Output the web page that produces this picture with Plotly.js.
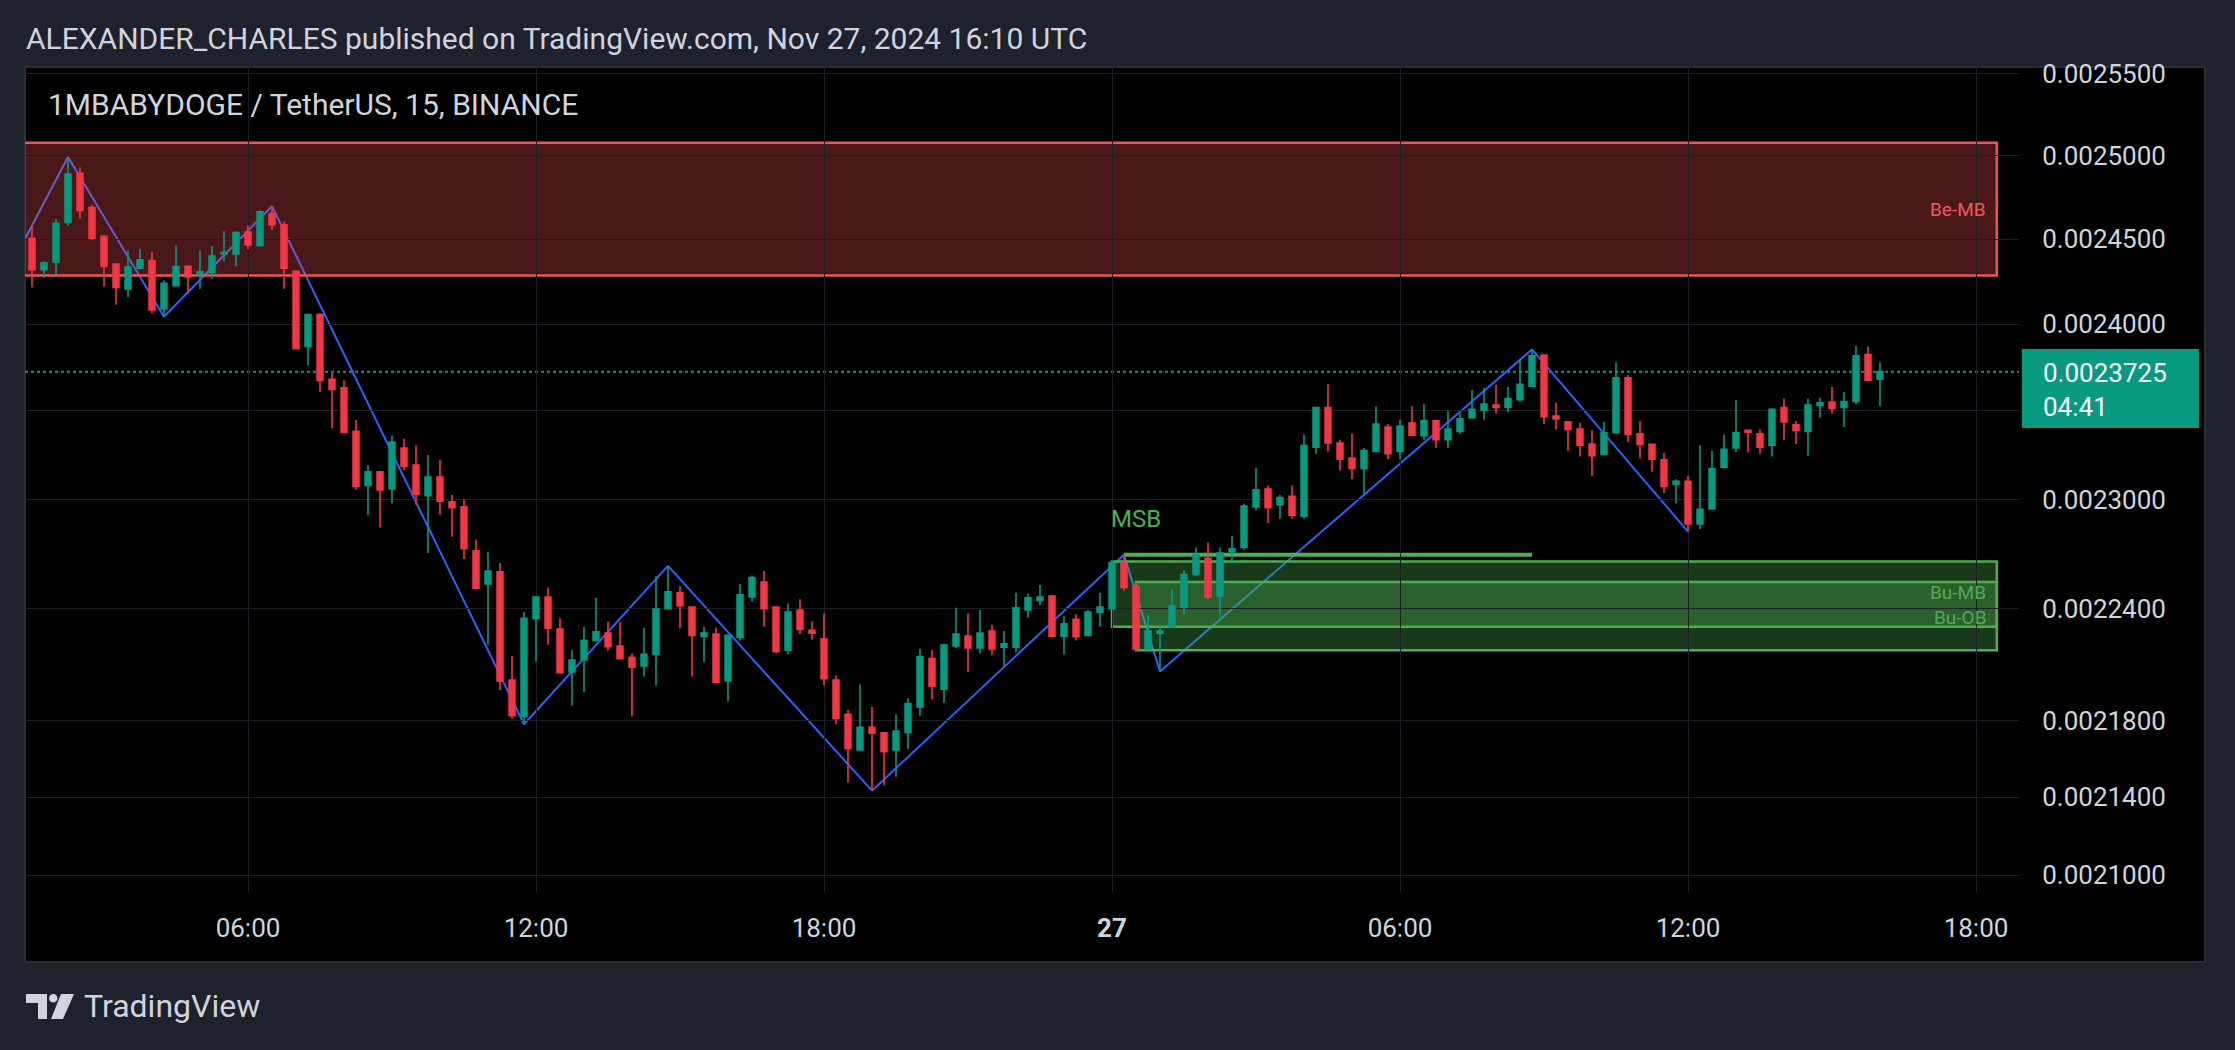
<!DOCTYPE html>
<html>
<head>
<meta charset="utf-8">
<script src="https://cdn.plot.ly/plotly-3.0.1.min.js"></script>
<style>
  html, body { margin: 0; padding: 0; background: #1e222d; }
  #chart { width: 2235px; height: 1050px; }
</style>
</head>
<body>
<div id="chart"></div>
<script>
// ---------------- DATA ----------------
const headerText = 'ALEXANDER_CHARLES published on TradingView.com, Nov 27, 2024 16:10 UTC';
const symbolText = '1MBABYDOGE / TetherUS, 15, BINANCE';
const brandText = 'TradingView';
const countdownText = '04:41';

const firstCandleTime = '2024-11-26 01:30';
const candleMinutes = 15;

const open = [
0.0024503,0.0024319,0.0024364,0.0024598,0.0024894,0.0024688,0.0024516,0.0024352,0.0024206,0.0024327,
0.0024372,0.0024088,0.0024224,0.0024339,0.0024291,0.0024301,0.0024412,0.0024412,0.0024541,0.0024460,
0.0024652,0.0024585,0.0024309,0.0023870,0.0024055,0.0023681,0.0023632,0.0023385,0.0023079,0.0023156,
0.0023060,0.0023290,0.0023194,0.0023022,0.0023127,0.0022988,0.0022960,0.0022717,0.0022535,0.0022601,
0.0022017,0.0021823,0.0022348,0.0022464,0.0022290,0.0022060,0.0022124,0.0022229,0.0022268,0.0022199,
0.0022138,0.0022092,0.0022154,0.0022400,0.0022487,0.0022409,0.0022252,0.0022263,0.0022012,0.0022245,
0.0022464,0.0022546,0.0022409,0.0022176,0.0022393,0.0022284,0.0022238,0.0022017,0.0021834,0.0021646,
0.0021766,0.0021737,0.0021646,0.0021739,0.0021873,0.0022131,0.0021967,0.0022199,0.0022252,0.0022188,
0.0022279,0.0022192,0.0022192,0.0022393,0.0022445,0.0022469,0.0022252,0.0022343,0.0022256,0.0022382,
0.0022400,0.0022648,0.0022523,0.0022183,0.0022268,0.0022302,0.0022409,0.0022587,0.0022676,0.0022469,
0.0022712,0.0022735,0.0022960,0.0023060,0.0022972,0.0023019,0.0022908,0.0023294,0.0023520,0.0023318,
0.0023234,0.0023175,0.0023270,0.0023409,0.0023270,0.0023431,0.0023359,0.0023445,0.0023337,0.0023383,
0.0023462,0.0023505,0.0023534,0.0023522,0.0023564,0.0023642,0.0023821,0.0023471,0.0023438,0.0023397,
0.0023313,0.0023254,0.0023376,0.0023689,0.0023371,0.0023311,0.0023223,0.0023086,0.0023103,0.0022865,
0.0022948,0.0023182,0.0023290,0.0023390,0.0023371,0.0023306,0.0023520,0.0023421,0.0023383,0.0023532,
0.0023551,0.0023520,0.0023554,0.0023824,0.0023681
];
const high = [
0.0024580,0.0024369,0.0024619,0.0024992,0.0024928,0.0024704,0.0024523,0.0024352,0.0024432,0.0024440,
0.0024422,0.0024256,0.0024465,0.0024344,0.0024432,0.0024457,0.0024546,0.0024546,0.0024580,0.0024670,
0.0024696,0.0024606,0.0024309,0.0024055,0.0024063,0.0023718,0.0023674,0.0023450,0.0023194,0.0023156,
0.0023361,0.0023342,0.0023306,0.0023251,0.0023223,0.0023026,0.0023002,0.0022778,0.0022712,0.0022648,
0.0022147,0.0022382,0.0022469,0.0022516,0.0022348,0.0022176,0.0022302,0.0022459,0.0022329,0.0022329,
0.0022160,0.0022297,0.0022577,0.0022634,0.0022523,0.0022409,0.0022302,0.0022297,0.0022256,0.0022535,
0.0022582,0.0022606,0.0022409,0.0022428,0.0022452,0.0022332,0.0022375,0.0022040,0.0021857,0.0021992,
0.0021873,0.0021737,0.0021834,0.0021919,0.0022183,0.0022176,0.0022211,0.0022405,0.0022375,0.0022393,
0.0022313,0.0022279,0.0022487,0.0022483,0.0022530,0.0022469,0.0022359,0.0022370,0.0022393,0.0022487,
0.0022665,0.0022695,0.0022546,0.0022366,0.0022313,0.0022504,0.0022610,0.0022735,0.0022764,0.0022735,
0.0022799,0.0022979,0.0023179,0.0023079,0.0023026,0.0023079,0.0023366,0.0023520,0.0023652,0.0023337,
0.0023371,0.0023290,0.0023527,0.0023426,0.0023450,0.0023527,0.0023539,0.0023445,0.0023498,0.0023486,
0.0023620,0.0023632,0.0023650,0.0023637,0.0023799,0.0023853,0.0023821,0.0023547,0.0023438,0.0023433,
0.0023390,0.0023438,0.0023779,0.0023706,0.0023443,0.0023313,0.0023263,0.0023115,0.0023134,0.0023306,
0.0023275,0.0023366,0.0023564,0.0023390,0.0023395,0.0023515,0.0023571,0.0023443,0.0023569,0.0023576,
0.0023637,0.0023608,0.0023873,0.0023870,0.0023779
];
const low = [
0.0024214,0.0024271,0.0024289,0.0024580,0.0024619,0.0024495,0.0024219,0.0024113,0.0024158,0.0024322,
0.0024063,0.0024043,0.0024224,0.0024176,0.0024206,0.0024264,0.0024369,0.0024339,0.0024440,0.0024457,
0.0024554,0.0024206,0.0023858,0.0023760,0.0023608,0.0023402,0.0023376,0.0023055,0.0022913,0.0022846,
0.0022979,0.0023163,0.0022972,0.0022705,0.0022917,0.0022795,0.0022672,0.0022511,0.0022206,0.0021964,
0.0021812,0.0021782,0.0022115,0.0022206,0.0022051,0.0021880,0.0021953,0.0022222,0.0022174,0.0022126,
0.0021823,0.0022035,0.0021987,0.0022400,0.0022295,0.0022035,0.0022113,0.0022005,0.0021903,0.0022229,
0.0022440,0.0022302,0.0022160,0.0022154,0.0022263,0.0022233,0.0021989,0.0021782,0.0021477,0.0021642,
0.0021434,0.0021461,0.0021506,0.0021653,0.0021827,0.0021914,0.0021896,0.0022188,0.0022058,0.0022160,
0.0022149,0.0022092,0.0022165,0.0022352,0.0022421,0.0022252,0.0022154,0.0022229,0.0022252,0.0022302,
0.0022400,0.0022499,0.0022176,0.0022176,0.0022062,0.0022302,0.0022370,0.0022577,0.0022452,0.0022352,
0.0022648,0.0022723,0.0022941,0.0022870,0.0022894,0.0022896,0.0022894,0.0023258,0.0023270,0.0023163,
0.0023115,0.0023031,0.0023270,0.0023227,0.0023227,0.0023361,0.0023337,0.0023290,0.0023290,0.0023371,
0.0023462,0.0023450,0.0023486,0.0023493,0.0023554,0.0023637,0.0023426,0.0023395,0.0023275,0.0023242,
0.0023132,0.0023254,0.0023376,0.0023323,0.0023232,0.0023156,0.0023036,0.0022979,0.0022823,0.0022837,
0.0022948,0.0023175,0.0023266,0.0023266,0.0023258,0.0023242,0.0023335,0.0023313,0.0023246,0.0023462,
0.0023486,0.0023409,0.0023539,0.0023672,0.0023529
];
const close = [
0.0024319,0.0024359,0.0024593,0.0024889,0.0024670,0.0024503,0.0024339,0.0024214,0.0024334,0.0024377,
0.0024083,0.0024239,0.0024337,0.0024276,0.0024306,0.0024399,0.0024422,0.0024539,0.0024465,0.0024662,
0.0024585,0.0024327,0.0023858,0.0024055,0.0023676,0.0023623,0.0023380,0.0023074,0.0023156,0.0023055,
0.0023323,0.0023187,0.0023031,0.0023127,0.0022991,0.0022955,0.0022728,0.0022511,0.0022606,0.0022012,
0.0021827,0.0022348,0.0022464,0.0022295,0.0022056,0.0022124,0.0022229,0.0022275,0.0022195,0.0022131,
0.0022085,0.0022154,0.0022398,0.0022492,0.0022417,0.0022256,0.0022268,0.0022005,0.0022256,0.0022476,
0.0022570,0.0022400,0.0022170,0.0022382,0.0022288,0.0022268,0.0022024,0.0021812,0.0021655,0.0021766,
0.0021734,0.0021637,0.0021746,0.0021891,0.0022142,0.0021983,0.0022204,0.0022263,0.0022188,0.0022268,
0.0022183,0.0022211,0.0022405,0.0022459,0.0022464,0.0022252,0.0022318,0.0022249,0.0022382,0.0022409,
0.0022653,0.0022516,0.0022183,0.0022279,0.0022279,0.0022417,0.0022587,0.0022695,0.0022464,0.0022705,
0.0022728,0.0022965,0.0023055,0.0022955,0.0023012,0.0022913,0.0023304,0.0023520,0.0023318,0.0023227,
0.0023175,0.0023275,0.0023426,0.0023258,0.0023414,0.0023361,0.0023445,0.0023337,0.0023397,0.0023455,
0.0023510,0.0023539,0.0023520,0.0023571,0.0023652,0.0023816,0.0023467,0.0023455,0.0023395,0.0023306,
0.0023246,0.0023376,0.0023689,0.0023366,0.0023311,0.0023227,0.0023074,0.0023103,0.0022865,0.0022946,
0.0023175,0.0023282,0.0023378,0.0023380,0.0023294,0.0023510,0.0023438,0.0023390,0.0023534,0.0023547,
0.0023515,0.0023554,0.0023816,0.0023676,0.0023725
];

// zigzag pivots
const pivotTimes = ['2024-11-26 01:00','2024-11-26 02:15','2024-11-26 04:15','2024-11-26 06:30','2024-11-26 11:45',
  '2024-11-26 14:45','2024-11-26 19:00','2024-11-27 00:15','2024-11-27 01:00','2024-11-27 08:45','2024-11-27 12:00'];
const pivotPrices = [0.0024309,0.0024992,0.0024043,0.0024696,0.0021782,0.0022634,0.0021434,0.0022695,0.0022062,0.0023853,0.0022823];

// zones
const zoneNames = ['Be-MB','Bu-OB','Bu-MB'];
const zoneStart = ['2024-11-26 00:00','2024-11-27 00:00','2024-11-27 00:30'];
const zoneEnd = ['2024-11-27 18:26','2024-11-27 18:26','2024-11-27 18:26'];
const zoneTop = [0.0025078,0.0022658,0.0022546];
const zoneBottom = [0.0024285,0.0022302,0.0022176];
const zoneLabels = ['Be-MB','Bu-MB','Bu-OB'];
const zoneLabelPrices = [0.0024675,0.0022486,0.0022355];
const zoneLabelColors = ['#f05a5a','#55a855','#55a855'];

// market structure break
const msbLabel = 'MSB';
const msbStart = '2024-11-27 00:15';
const msbEnd = '2024-11-27 08:45';
const msbPrice = 0.0022695;
const msbLabelTime = '2024-11-27 00:30';
const msbLabelPrice = 0.0022893;

// axes
const xTickVals = ['2024-11-26 06:00','2024-11-26 12:00','2024-11-26 18:00','2024-11-27 00:00','2024-11-27 06:00','2024-11-27 12:00','2024-11-27 18:00'];
const xTickText = ['06:00','12:00','18:00','<b>27</b>','06:00','12:00','18:00'];
const yTickVals = [0.0021,0.00214,0.00218,0.00224,0.0023,0.00235,0.0024,0.00245,0.0025,0.00255];
const yTickText = ['0.0021000','0.0021400','0.0021800','0.0022400','0.0023000','','0.0024000','0.0024500','0.0025000','0.0025500'];
const xRange = ['2024-11-26 01:21:15','2024-11-27 18:53:45'];
const yRangePrices = [0.0020914,0.0025543];

// ---------------- BUILD ----------------
function addMinutes(str, m) {
  const d = new Date(str.replace(' ', 'T') + ':00Z');
  d.setUTCMinutes(d.getUTCMinutes() + m);
  return d.toISOString().slice(0, 16).replace('T', ' ');
}
const times = open.map((_, i) => addMinutes(firstCandleTime, i * candleMinutes));

const UP = '#089981', DOWN = '#f23645';
const W = 2235, H = 1050;
const M = {l: 25, r: 216, t: 67, b: 158};
const PW = W - M.l - M.r, PH = H - M.t - M.b;
const px = X => (X - M.l) / PW;
const py = Y => (H - M.b - Y) / PH;

const shapes = [];
// chart panel
shapes.push({type: 'rect', xref: 'paper', yref: 'paper', x0: px(25), x1: px(2205), y0: py(962), y1: py(67),
  fillcolor: '#000000', line: {color: '#2a2e39', width: 2}, layer: 'below'});
// zigzag
for (let k = 0; k < pivotTimes.length - 1; k++) {
  shapes.push({type: 'line', xref: 'x', yref: 'y', x0: pivotTimes[k], y0: pivotPrices[k], x1: pivotTimes[k + 1], y1: pivotPrices[k + 1],
    line: {color: '#2962ff', width: 2}, layer: 'below'});
}
// zones
zoneNames.forEach((n, k) => {
  const red = n.startsWith('Be');
  shapes.push({type: 'rect', xref: 'x', yref: 'y', x0: zoneStart[k], x1: zoneEnd[k], y0: zoneBottom[k], y1: zoneTop[k],
    fillcolor: red ? 'rgba(250,80,85,0.30)' : 'rgba(76,175,80,0.33)',
    line: {color: red ? '#f05454' : '#4caf50', width: 2.5}, layer: 'below'});
});
// MSB line
shapes.push({type: 'line', xref: 'x', yref: 'y', x0: msbStart, x1: msbEnd, y0: msbPrice, y1: msbPrice,
  line: {color: '#4caf50', width: 4}, layer: 'below'});
// last price dotted line
const last = close[close.length - 1];
shapes.push({type: 'line', xref: 'paper', yref: 'y', x0: 0, x1: 1, y0: last, y1: last,
  line: {color: UP, width: 2, dash: 'dot'}, layer: 'below'});
// TradingView logo
shapes.push({type: 'path', xref: 'paper', yref: 'paper', layer: 'below', fillcolor: '#d1d4dc', line: {width: 0},
  path: `M ${px(26)} ${py(994)} L ${px(47)} ${py(994)} L ${px(47)} ${py(1019)} L ${px(38)} ${py(1019)} L ${px(38)} ${py(1003)} L ${px(26)} ${py(1003)} Z`});
shapes.push({type: 'circle', xref: 'paper', yref: 'paper', layer: 'below', fillcolor: '#d1d4dc', line: {width: 0},
  x0: px(49), x1: px(57.5), y0: py(1002.5), y1: py(994)});
shapes.push({type: 'path', xref: 'paper', yref: 'paper', layer: 'below', fillcolor: '#d1d4dc', line: {width: 0},
  path: `M ${px(61)} ${py(994)} L ${px(74)} ${py(994)} L ${px(63)} ${py(1019)} L ${px(51)} ${py(1019)} Z`});

const F = 'Roboto, sans-serif';
const annotations = [];
annotations.push({xref: 'paper', yref: 'paper', x: px(46), y: py(105), xanchor: 'left', yanchor: 'middle',
  text: symbolText, showarrow: false, font: {family: F, size: 30, color: '#d1d4dc'}});
annotations.push({xref: 'paper', yref: 'paper', x: px(82), y: py(1006), xanchor: 'left', yanchor: 'middle',
  text: brandText, showarrow: false, font: {family: F, size: 32, color: '#d1d4dc'}});
zoneLabels.forEach((t, k) => {
  annotations.push({xref: 'x', yref: 'y', x: zoneEnd[0], y: Math.log10(zoneLabelPrices[k]), xanchor: 'right', yanchor: 'middle',
    xshift: -9, text: t, showarrow: false, font: {family: F, size: 19, color: zoneLabelColors[k]}});
});
annotations.push({xref: 'x', yref: 'y', x: msbLabelTime, y: Math.log10(msbLabelPrice), xanchor: 'center', yanchor: 'middle',
  text: msbLabel, showarrow: false, font: {family: F, size: 24, color: '#4caf50'}});
// last price tag (background box, then text)
annotations.push({xref: 'paper', yref: 'y', x: px(2022), y: Math.log10(last), xanchor: 'left', yanchor: 'top', yshift: 23,
  width: 175, height: 77, borderpad: 0, borderwidth: 1, bordercolor: UP, bgcolor: UP, text: ' ', showarrow: false});
annotations.push({xref: 'paper', yref: 'y', x: px(2041), y: Math.log10(last), xanchor: 'left', yanchor: 'middle', yshift: -18,
  align: 'left', text: last.toFixed(7) + '<br>' + countdownText, showarrow: false, font: {family: F, size: 26, color: '#ffffff'}});

const trace = {
  type: 'candlestick', x: times, open: open, high: high, low: low, close: close,
  increasing: {line: {color: UP, width: 1.6}, fillcolor: UP},
  decreasing: {line: {color: DOWN, width: 1.6}, fillcolor: DOWN},
  whiskerwidth: 0, hoverinfo: 'skip', showlegend: false
};

const layout = {
  width: W, height: H, autosize: false,
  margin: M,
  paper_bgcolor: '#1e222d', plot_bgcolor: '#000000',
  font: {family: F, color: '#d1d4dc'},
  showlegend: false, boxgap: 0.3,
  title: {text: headerText, xref: 'container', yref: 'container', x: 26 / W, xanchor: 'left', y: 1 - 38 / H, yanchor: 'middle',
    font: {family: F, size: 30, color: '#d1d4dc'}},
  xaxis: {type: 'date', range: xRange, tickmode: 'array', tickvals: xTickVals, ticktext: xTickText,
    showgrid: true, gridcolor: '#1c1f26', gridwidth: 1, zeroline: false, showline: false,
    ticks: 'outside', ticklen: 13, tickcolor: 'rgba(0,0,0,0)', tickfont: {family: F, size: 26, color: '#d1d4dc'},
    rangeslider: {visible: false}, fixedrange: true},
  yaxis: {type: 'log', side: 'right', range: yRangePrices.map(Math.log10), tickmode: 'array', tickvals: yTickVals, ticktext: yTickText,
    showgrid: true, gridcolor: '#1c1f26', gridwidth: 1, zeroline: false, showline: false,
    ticks: 'outside', ticklen: 17, tickcolor: 'rgba(0,0,0,0)', tickfont: {family: F, size: 26, color: '#d1d4dc'}, fixedrange: true},
  shapes: shapes, annotations: annotations
};

Plotly.newPlot('chart', [trace], layout, {displayModeBar: false, staticPlot: true});
</script>
</body>
</html>
